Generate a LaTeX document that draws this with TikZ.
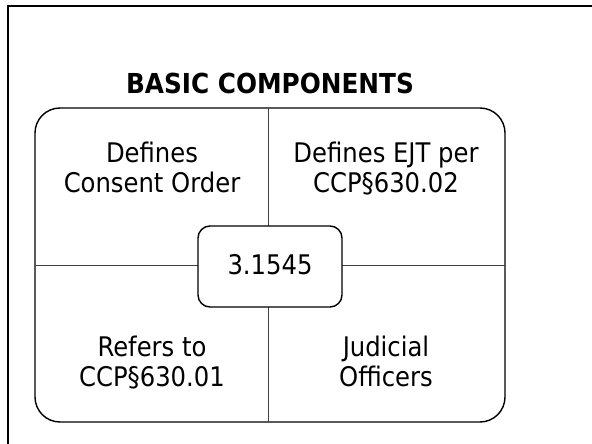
\documentclass[tikz,border=0pt]{standalone}
\usepackage{fontspec}
\setmainfont{DejaVu Sans Condensed}
\begin{document}
\begin{tikzpicture}[x=1pt,y=-1pt,
  frame/.style={line width=2pt,draw=black},
  panel/.style={draw=black,line width=1.4pt,rounded corners=25pt},
  divider/.style={draw=black!75,line width=0.9pt},
  hub/.style={draw=black,fill=white,line width=1.4pt,rounded corners=12pt,
    minimum width=144pt,minimum height=81pt,inner sep=0pt},
  celltext/.style={align=center,inner sep=0pt,font=\fontsize{27}{30}\selectfont},
  titletext/.style={inner sep=0pt,font=\bfseries\fontsize{27.5}{32}\selectfont}]
  \useasboundingbox (0,0) rectangle (592,444);
  % page frame: only its top and left edges fall inside the picture
  \draw[frame] (8,450) -- (8,6) -- (600,6);
  % title
  \node[titletext,anchor=base] (title) at (270,93) {BASIC COMPONENTS};
  % four-cell panel
  \draw[panel] (35,108) rectangle (505,422);
  \coordinate (ptop) at (268,108);
  \coordinate (pbot) at (268,422);
  \coordinate (pleft) at (35,265);
  \coordinate (pright) at (505,265);
  \draw[divider] (ptop) -- (pbot);
  \draw[divider] (pleft) -- (pright);
  % cell texts (base anchor sits on the last line)
  \node[celltext,anchor=base] (tl) at (152,192) {Defines\\Consent Order};
  \node[celltext,anchor=base] (tr) at (386,192.5) {Defines EJT per\\CCP§630.02};
  \node[celltext,anchor=base] (bl) at (152,386.7) {Refers to\\CCP§630.01};
  \node[celltext,anchor=base] (br) at (386,386.7) {Judicial\\Officers};
  % centre label
  \node[hub] (hub) at (270,266.5) {};
  \node[inner sep=0pt,anchor=base,font=\fontsize{27}{32}\selectfont] (num) at (270,274) {3.1545};
\end{tikzpicture}
\end{document}
